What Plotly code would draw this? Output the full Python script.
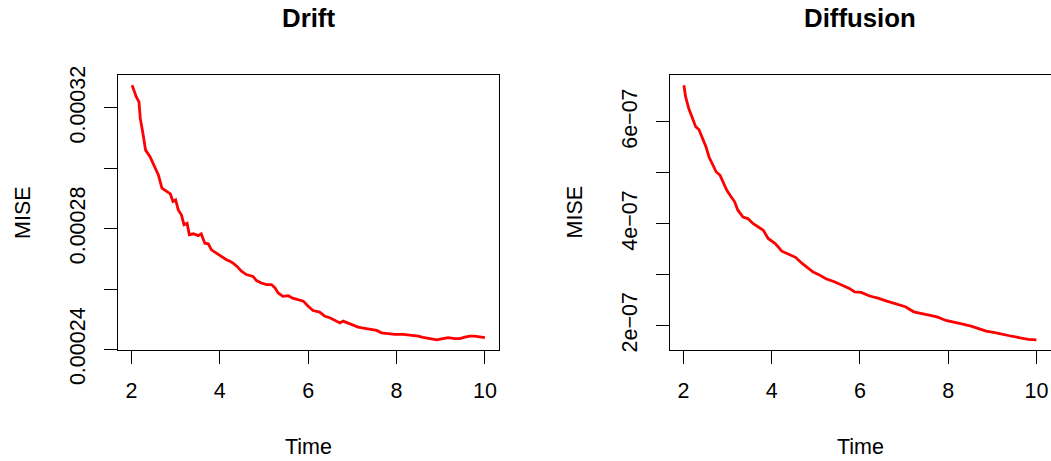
import plotly.graph_objects as go

# Drift panel: MISE over time
drift_time = [2.015, 2.11, 2.17, 2.2, 2.26, 2.32, 2.42, 2.51, 2.61, 2.69, 2.79, 2.88, 2.94,
              3.0, 3.06, 3.13, 3.19, 3.26, 3.31, 3.4, 3.51, 3.58, 3.66, 3.74, 3.81, 3.92,
              4.04, 4.15, 4.23, 4.30, 4.39, 4.49, 4.6, 4.75, 4.83, 4.94, 5.06, 5.17, 5.25,
              5.32, 5.43, 5.55, 5.65, 5.77, 5.89, 6.0, 6.11, 6.26, 6.38, 6.49, 6.6, 6.72,
              6.79, 6.91, 7.02, 7.13, 7.28, 7.4, 7.55, 7.66, 7.81, 7.96, 8.15, 8.34, 8.49,
              8.6, 8.75, 8.91, 9.02, 9.17, 9.32, 9.43, 9.55, 9.66, 9.77, 9.89, 10.0]
drift_mise = [0.0003275, 0.0003236, 0.000322, 0.0003165, 0.0003115, 0.000306, 0.0003038,
              0.0003011, 0.0002978, 0.0002934, 0.0002923, 0.0002915, 0.000289, 0.0002895,
              0.0002862, 0.0002846, 0.0002813, 0.0002818, 0.000278, 0.0002783, 0.0002777,
              0.0002783, 0.0002752, 0.0002750, 0.000273, 0.0002719, 0.0002708, 0.0002697,
              0.0002692, 0.0002686, 0.0002675, 0.0002659, 0.0002648, 0.0002642, 0.0002628,
              0.000262, 0.0002615, 0.0002615, 0.0002604, 0.0002587, 0.0002576, 0.0002578,
              0.000257, 0.0002565, 0.000256, 0.0002543, 0.0002529, 0.0002524, 0.000251,
              0.0002505, 0.0002497, 0.0002488, 0.0002494, 0.0002486, 0.0002479, 0.0002474,
              0.000247, 0.0002466, 0.0002463, 0.0002455, 0.0002453, 0.000245, 0.000245,
              0.0002447, 0.0002444, 0.000244, 0.0002436, 0.0002432, 0.0002435, 0.0002439,
              0.0002436, 0.0002436, 0.0002441, 0.0002444, 0.0002444, 0.0002442, 0.0002439]

# Diffusion panel: MISE over time
diff_time = [2.01, 2.05, 2.12, 2.2, 2.28, 2.35, 2.43, 2.51, 2.58, 2.66, 2.74, 2.83, 2.89,
             2.98, 3.08, 3.16, 3.23, 3.35, 3.46, 3.58, 3.69, 3.81, 3.92, 4.08, 4.23, 4.38,
             4.54, 4.69, 4.80, 4.94, 5.07, 5.23, 5.42, 5.61, 5.76, 5.88, 6.03, 6.22, 6.41,
             6.61, 6.80, 7.03, 7.22, 7.37, 7.56, 7.75, 7.95, 8.14, 8.33, 8.52, 8.67, 8.86,
             9.06, 9.25, 9.44, 9.63, 9.82, 10.0]
diff_mise = [6.72e-07, 6.49e-07, 6.26e-07, 6.07e-07, 5.90e-07, 5.85e-07, 5.67e-07, 5.51e-07,
             5.31e-07, 5.15e-07, 5.02e-07, 4.95e-07, 4.82e-07, 4.66e-07, 4.53e-07, 4.43e-07,
             4.27e-07, 4.13e-07, 4.10e-07, 4.00e-07, 3.94e-07, 3.87e-07, 3.71e-07, 3.61e-07,
             3.46e-07, 3.40e-07, 3.34e-07, 3.22e-07, 3.15e-07, 3.05e-07, 3.00e-07, 2.92e-07,
             2.86e-07, 2.78e-07, 2.73e-07, 2.66e-07, 2.65e-07, 2.58e-07, 2.54e-07, 2.48e-07,
             2.43e-07, 2.37e-07, 2.27e-07, 2.24e-07, 2.20e-07, 2.17e-07, 2.10e-07, 2.07e-07,
             2.03e-07, 1.99e-07, 1.94e-07, 1.89e-07, 1.86e-07, 1.82e-07, 1.79e-07, 1.76e-07,
             1.73e-07, 1.72e-07]

x_ticks = [2, 4, 6, 8, 10]
x_tick_text = ["2", "4", "6", "8", "10"]
drift_ticks = [0.00024, 0.00026, 0.00028, 0.00030, 0.00032]
drift_tick_text = ["0.00024", "", "0.00028", "", "0.00032"]
diff_ticks = [2e-07, 3e-07, 4e-07, 5e-07, 6e-07]
diff_tick_text = ["2e\u221207", "", "4e\u221207", "", "6e\u221207"]

W, H = 1051, 461
FONT = "Liberation Sans, Arial, Helvetica, sans-serif"
AXFS = 21.5


def padded(vals):
    lo, hi = min(vals), max(vals)
    d = hi - lo
    return [lo - 0.04 * d, hi + 0.04 * d]


fig = go.Figure()
fig.add_trace(go.Scatter(x=drift_time, y=drift_mise, mode="lines",
                         line=dict(color="#ff0000", width=2.8), xaxis="x", yaxis="y",
                         showlegend=False))
fig.add_trace(go.Scatter(x=diff_time, y=diff_mise, mode="lines",
                         line=dict(color="#ff0000", width=2.8), xaxis="x2", yaxis="y2",
                         showlegend=False))

ydom = [111 / H, 386 / H]
common = dict(showline=True, mirror=True, linecolor="black", linewidth=1,
              ticks="outside", ticklen=13, tickwidth=1, tickcolor="black",
              showgrid=False, zeroline=False, automargin=False,
              tickfont=dict(family=FONT, size=AXFS, color="black"))

fig.update_layout(
    width=W, height=H,
    margin=dict(l=0, r=0, t=0, b=0),
    paper_bgcolor="white", plot_bgcolor="white",
    xaxis=dict(domain=[118 / W, 499 / W], range=padded(drift_time), anchor="y",
               tickvals=x_ticks, ticktext=x_tick_text, ticklabelstandoff=8, **common),
    yaxis=dict(domain=ydom, range=padded(drift_mise), anchor="x",
               tickvals=drift_ticks, ticktext=drift_tick_text, tickangle=-90,
               ticklabelstandoff=10, **common),
    xaxis2=dict(domain=[669.8 / W, 1050.5 / W], range=padded(diff_time), anchor="y2",
                tickvals=x_ticks, ticktext=x_tick_text, ticklabelstandoff=8, **common),
    yaxis2=dict(domain=ydom, range=padded(diff_mise), anchor="x2",
                tickvals=diff_ticks, ticktext=diff_tick_text, tickangle=-90,
                ticklabelstandoff=10, **common),
)


def label(text, x, y, size=AXFS, angle=0, bold=False):
    fig.add_annotation(
        text=f"<b>{text}</b>" if bold else text,
        x=x / W, y=1 - y / H, xref="paper", yref="paper",
        xanchor="center", yanchor="middle", showarrow=False, textangle=angle,
        font=dict(family=FONT, size=size, color="black"))


label("Drift", 308.5, 18.5, size=25.8, bold=True)
label("Diffusion", 860, 18.5, size=25.8, bold=True)
label("Time", 308.5, 447)
label("Time", 860, 447)
label("MISE", 22.5, 212.5, angle=-90)
label("MISE", 574, 212.5, angle=-90)

fig.write_html("out.html")
